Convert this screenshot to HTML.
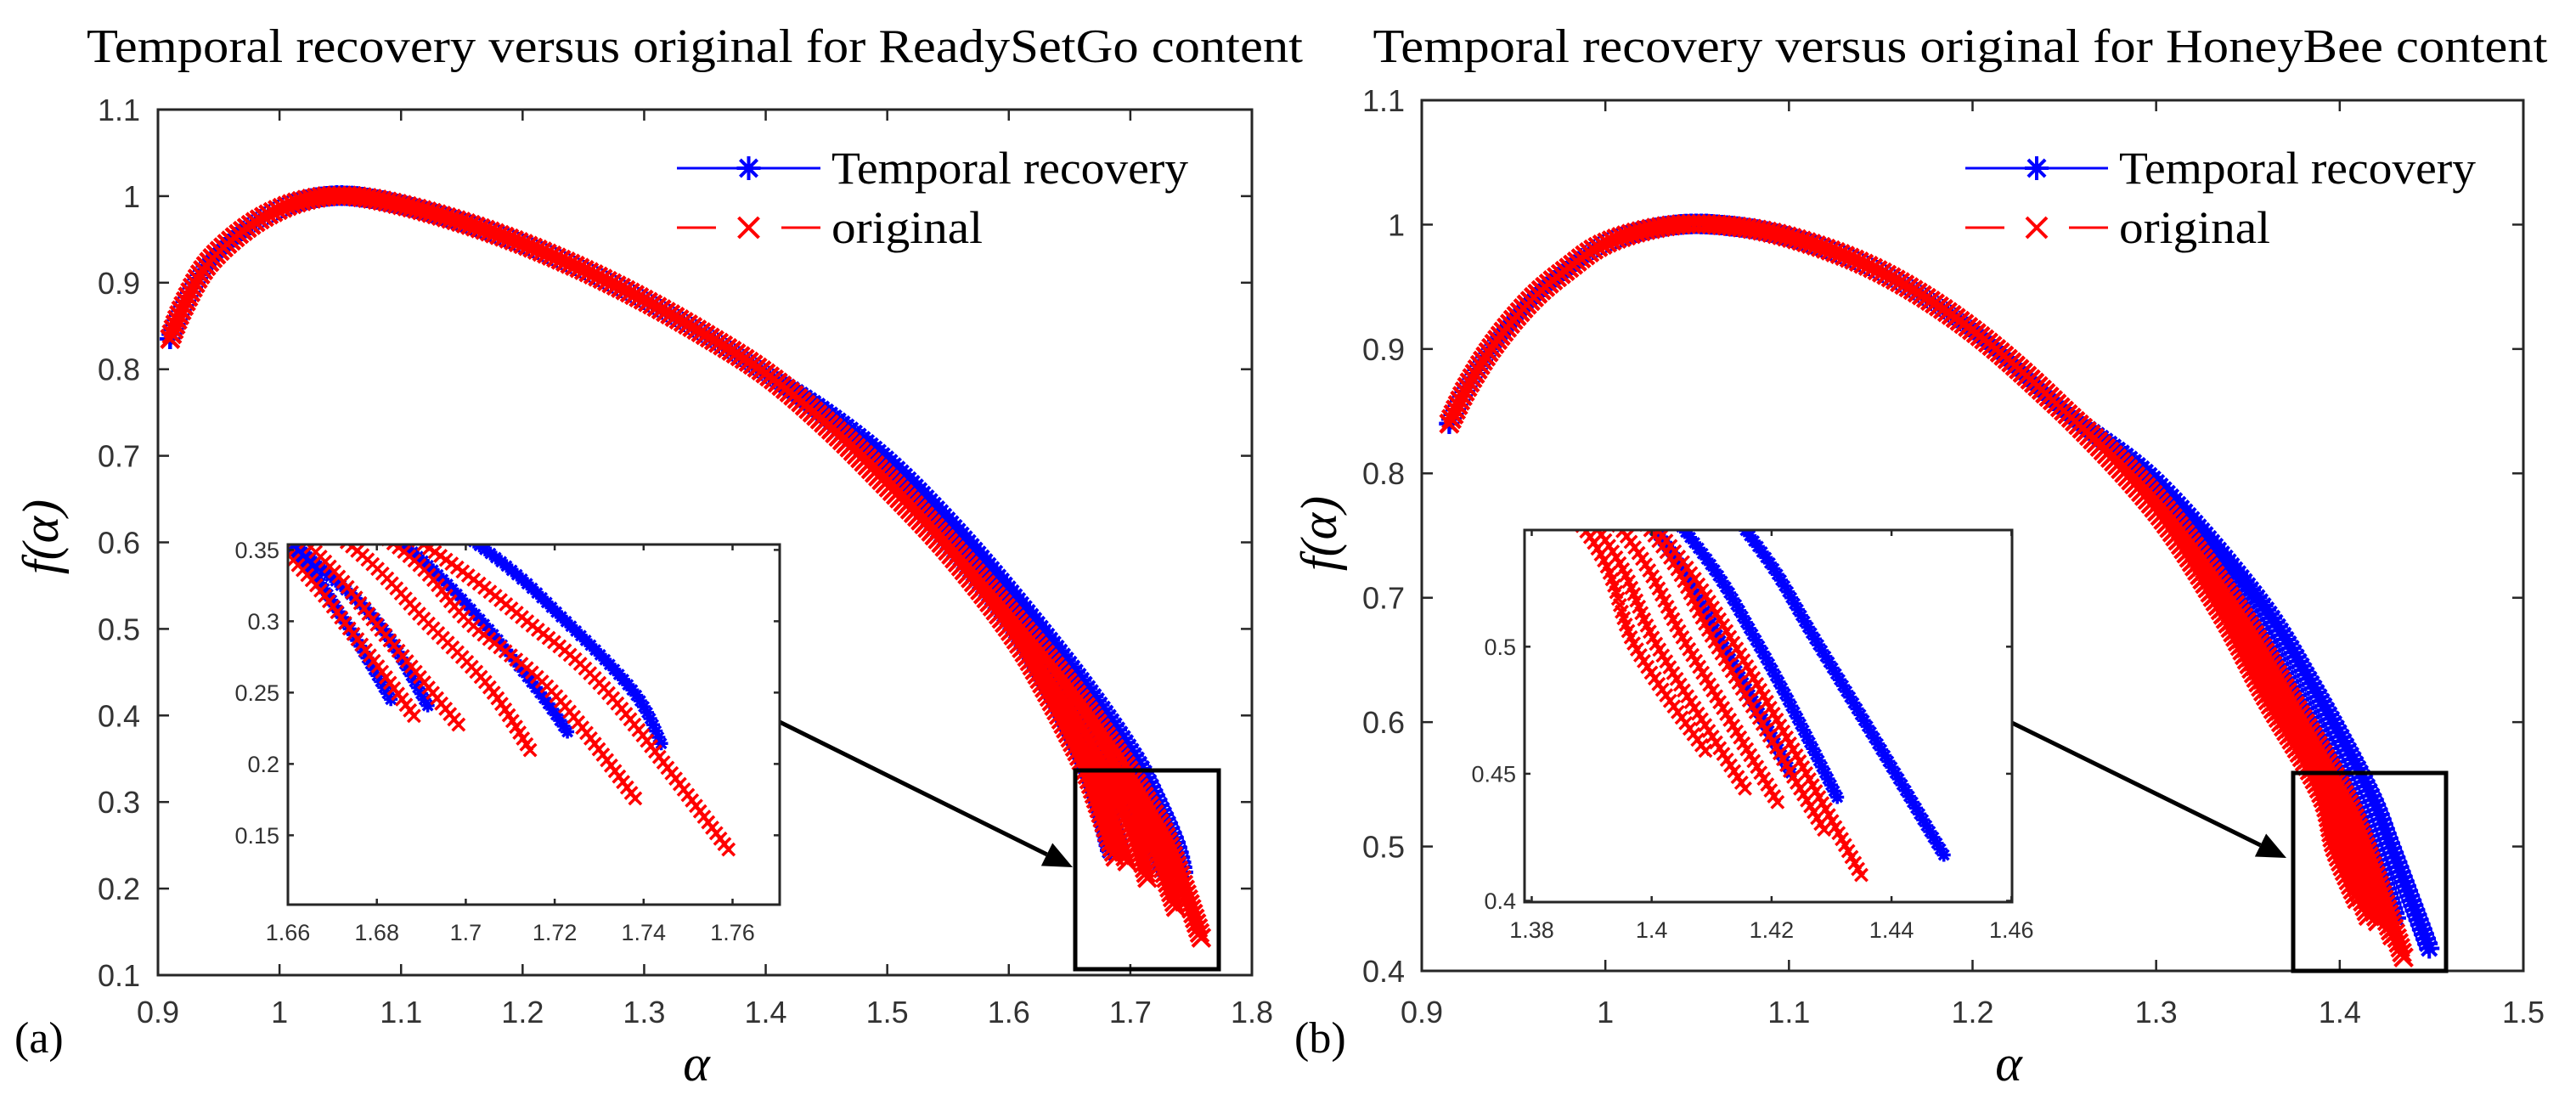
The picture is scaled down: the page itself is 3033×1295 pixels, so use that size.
<!DOCTYPE html>
<html><head><meta charset="utf-8">
<style>
html,body{margin:0;padding:0;background:#fff;}
svg{display:block;}
.tk{font-family:"Liberation Sans",sans-serif;fill:#333;}
.sf{font-family:"Liberation Serif",serif;fill:#000;}
</style></head>
<body>
<svg id="fig" width="3033" height="1295" viewBox="0 0 3033 1295" xmlns="http://www.w3.org/2000/svg">
<defs>
<clipPath id="clipLM"><rect x="186" y="129" width="1288" height="1019"/></clipPath>
<clipPath id="clipLI"><rect x="339" y="641" width="579" height="424"/></clipPath>
<clipPath id="clipRM"><rect x="1674" y="118" width="1297" height="1025"/></clipPath>
<clipPath id="clipRI"><rect x="1795" y="624" width="574" height="438"/></clipPath>
</defs>
<g id="root"></g>
</svg>
<script>
// ---------- data: panel (a) ReadySetGo ----------
const leftBody = [[0.91,0.835],[0.92,0.87],[0.94,0.92],[0.97,0.96],[1.0,0.985],[1.03,0.998],[1.06,1.0],[1.1,0.99],[1.15,0.97],[1.2,0.945],[1.25,0.915],[1.3,0.88],[1.35,0.84],[1.4,0.795]];
const leftBlue1 = [[1.45,0.742],[1.5,0.68],[1.55,0.6],[1.6,0.51],[1.63,0.44],[1.6604,0.352],[1.6728,0.30],[1.6834,0.244]];
const leftBlue2 = [[1.45,0.745],[1.5,0.685],[1.55,0.607],[1.6,0.517],[1.635,0.44],[1.6625,0.352],[1.68,0.30],[1.6918,0.239]];
const leftBlue3 = [[1.45,0.748],[1.5,0.69],[1.55,0.62],[1.6,0.535],[1.65,0.44],[1.6867,0.352],[1.7035,0.30],[1.7167,0.25],[1.7233,0.2205]];
const leftBlue4 = [[1.45,0.75],[1.5,0.695],[1.55,0.625],[1.6,0.545],[1.66,0.44],[1.7031,0.353],[1.7225,0.30],[1.7379,0.25],[1.7441,0.2135]];
const leftRed1 = [[1.45,0.735],[1.5,0.665],[1.55,0.59],[1.6,0.50],[1.63,0.43],[1.6605,0.345],[1.675,0.29],[1.6889,0.2313]];
const leftRed2 = [[1.45,0.736],[1.5,0.667],[1.55,0.592],[1.6,0.505],[1.635,0.43],[1.6651,0.352],[1.682,0.29],[1.6984,0.2274]];
const leftRed3 = [[1.45,0.737],[1.5,0.67],[1.55,0.595],[1.6,0.51],[1.64,0.43],[1.6746,0.352],[1.6911,0.30],[1.705,0.255],[1.7145,0.2095]];
const leftRed4 = [[1.45,0.738],[1.5,0.672],[1.55,0.598],[1.6,0.515],[1.645,0.435],[1.6852,0.351],[1.7006,0.30],[1.7196,0.25],[1.7386,0.1738]];
const leftRed5 = [[1.45,0.739],[1.5,0.675],[1.55,0.60],[1.6,0.52],[1.65,0.435],[1.6914,0.352],[1.7138,0.30],[1.732,0.25],[1.7591,0.14]];
const leftXTicks = ["0.9","1","1.1","1.2","1.3","1.4","1.5","1.6","1.7","1.8"];
const leftYTicks = ["0.1","0.2","0.3","0.4","0.5","0.6","0.7","0.8","0.9","1","1.1"];
const leftInsetXTicks = ["1.66","1.68","1.7","1.72","1.74","1.76"];
const leftInsetYTicks = ["0.15","0.2","0.25","0.3","0.35"];
// ---------- data: panel (b) HoneyBee ----------
const rightBody = [[0.915,0.84],[0.925,0.87],[0.94,0.905],[0.96,0.94],[0.98,0.965],[1.0,0.985],[1.03,0.998],[1.06,1.0],[1.1,0.99],[1.15,0.962],[1.2,0.915],[1.25,0.85]];
const rightBlue1 = [[1.3,0.785],[1.34,0.70],[1.37,0.625],[1.4005,0.546],[1.412,0.5],[1.4234,0.4496]];
const rightBlue2 = [[1.3,0.79],[1.345,0.70],[1.375,0.625],[1.4054,0.546],[1.418,0.5],[1.431,0.4406]];
const rightBlue3 = [[1.3,0.793],[1.355,0.70],[1.385,0.63],[1.4156,0.546],[1.428,0.5],[1.449,0.417]];
const rightRed1 = [[1.3,0.77],[1.335,0.69],[1.36,0.62],[1.3889,0.546],[1.3973,0.5],[1.4095,0.4572]];
const rightRed2 = [[1.3,0.772],[1.337,0.69],[1.363,0.62],[1.391,0.546],[1.401,0.5],[1.4158,0.4433]];
const rightRed3 = [[1.3,0.775],[1.34,0.69],[1.367,0.62],[1.395,0.546],[1.406,0.5],[1.4215,0.4367]];
const rightRed4 = [[1.3,0.778],[1.343,0.69],[1.371,0.62],[1.3997,0.546],[1.411,0.5],[1.4288,0.4278]];
const rightRed5 = [[1.3,0.78],[1.345,0.69],[1.373,0.62],[1.401,0.546],[1.414,0.5],[1.435,0.41]];
const rightXTicks = ["0.9","1","1.1","1.2","1.3","1.4","1.5"];
const rightYTicks = ["0.4","0.5","0.6","0.7","0.8","0.9","1","1.1"];
const rightInsetXTicks = ["1.38","1.4","1.42","1.44","1.46"];
const rightInsetYTicks = ["0.4","0.45","0.5"];

const NS = "http://www.w3.org/2000/svg";
const root = document.getElementById('root');
function el(tag, attrs, parent){
  const e = document.createElementNS(NS, tag);
  for (const k in attrs) e.setAttribute(k, attrs[k]);
  (parent||root).appendChild(e);
  return e;
}
function scale(d0,d1,p0,p1){ return v => p0 + (v-d0)/(d1-d0)*(p1-p0); }

function starPath(x,y,r){
  const d = r*0.72;
  return `M${x-r},${y}H${x+r}M${x},${y-r}V${y+r}M${x-d},${y-d}L${x+d},${y+d}M${x-d},${y+d}L${x+d},${y-d}`;
}
function crossPath(x,y,r){
  return `M${x-r},${y-r}L${x+r},${y+r}M${x-r},${y+r}L${x+r},${y-r}`;
}
function smoothPath(P){
  let d = `M${P[0][0].toFixed(1)},${P[0][1].toFixed(1)}`;
  for(let i=0;i<P.length-1;i++){
    const p0=P[Math.max(0,i-1)], p1=P[i], p2=P[i+1], p3=P[Math.min(P.length-1,i+2)];
    const c1x=p1[0]+(p2[0]-p0[0])/6, c1y=p1[1]+(p2[1]-p0[1])/6;
    const c2x=p2[0]-(p3[0]-p1[0])/6, c2y=p2[1]-(p3[1]-p1[1])/6;
    d += `C${c1x.toFixed(1)},${c1y.toFixed(1)} ${c2x.toFixed(1)},${c2y.toFixed(1)} ${p2[0].toFixed(1)},${p2[1].toFixed(1)}`;
  }
  return d;
}

function drawStrand(g, pts, sx, sy, color, isBlue, step, r, sw, name){
  const P = pts.map(p=>[sx(p[0]), sy(p[1])]);
  const line = el('path', {d:smoothPath(P), fill:'none', stroke:color, 'stroke-width':3}, g);
  if(!isBlue) line.setAttribute('stroke-dasharray','18,10');
  
  
  const len = line.getTotalLength();
  let md = '';
  for(let s=0; s<=len; s+=step){
    const p = line.getPointAtLength(s);
    md += isBlue ? starPath(p.x,p.y,r) : crossPath(p.x,p.y,r*0.8);
  }
  const m = el('path', {d:md, fill:'none', stroke:color, 'stroke-width':sw}, g);
  
  
}

function axesBox(x0,y0,x1,y1,sw,name){
  const r = el('rect',{x:x0,y:y0,width:x1-x0,height:y1-y0,fill:'none',stroke:'#262626','stroke-width':sw});
  
  
}

function drawTicks(labels, isX, sc, a0, a1, tlen, fontSize, labelPos, name){
  labels.forEach(t=>{
    const v = parseFloat(t), p = sc(v);
    if(isX){
      el('line',{x1:p,y1:a1,x2:p,y2:a1-tlen,stroke:'#262626','stroke-width':2.5});
      el('line',{x1:p,y1:a0,x2:p,y2:a0+tlen,stroke:'#262626','stroke-width':2.5});
      const tx = el('text',{x:p,y:labelPos,'text-anchor':'middle','font-size':fontSize,class:'tk'});
      tx.textContent = t;
      
      
    } else {
      el('line',{x1:a0,y1:p,x2:a0+tlen,y2:p,stroke:'#262626','stroke-width':2.5});
      el('line',{x1:a1,y1:p,x2:a1-tlen,y2:p,stroke:'#262626','stroke-width':2.5});
      const tx = el('text',{x:labelPos,y:p+fontSize*0.36,'text-anchor':'end','font-size':fontSize,class:'tk'});
      tx.textContent = t;
      
      
    }
  });
}

function serifText(x,y,txt,size,opts,name){
  const t = el('text',Object.assign({x:x,y:y,'font-size':size,class:'sf'},opts||{}));
  t.textContent = txt;
  
  
  return t;
}

function panel(cfg){
  const sx = scale(cfg.xr[0],cfg.xr[1],cfg.box[0],cfg.box[2]);
  const sy = scale(cfg.yr[0],cfg.yr[1],cfg.box[3],cfg.box[1]);
  const gm = el('g',{'clip-path':`url(#${cfg.clipM})`});
  
  
  cfg.blue.forEach((s,i)=>drawStrand(gm, cfg.body.concat(s), sx, sy, '#0000ff', true, 6, 12, 4, cfg.id+'-temporal-recovery-'+(i+1)));
  cfg.red.forEach((s,i)=>drawStrand(gm, cfg.body.concat(s), sx, sy, '#ff0000', false, 6, 13, 4, cfg.id+'-original-'+(i+1)));
  axesBox(cfg.box[0],cfg.box[1],cfg.box[2],cfg.box[3],3,cfg.id+'-axes-box');
  drawTicks(cfg.xt,true,sx,cfg.box[1],cfg.box[3],13,36,1204,cfg.id+'-x');
  drawTicks(cfg.yt,false,sy,cfg.box[0],cfg.box[2],13,36,cfg.ylabX,cfg.id+'-y');
  const zb = el('rect',{x:cfg.zoom[0],y:cfg.zoom[1],width:cfg.zoom[2]-cfg.zoom[0],height:cfg.zoom[3]-cfg.zoom[1],fill:'none',stroke:'#000','stroke-width':5});
  
  
  const [ax0,ay0,ax1,ay1] = cfg.arrow;
  const ang = Math.atan2(ay1-ay0, ax1-ax0), hl=34, hw=15;
  const bx = ax1-hl*Math.cos(ang), by = ay1-hl*Math.sin(ang);
  const al = el('line',{x1:ax0,y1:ay0,x2:bx,y2:by,stroke:'#000','stroke-width':5});
  
  
  const ah = el('polygon',{points:`${ax1},${ay1} ${bx-hw*Math.sin(ang)},${by+hw*Math.cos(ang)} ${bx+hw*Math.sin(ang)},${by-hw*Math.cos(ang)}`,fill:'#000'});
  
  
  const ib = cfg.ibox;
  const bg = el('rect',{x:ib[0],y:ib[1],width:ib[2]-ib[0],height:ib[3]-ib[1],fill:'#fff'});
  
  
  const ix = scale(cfg.ixr[0],cfg.ixr[1],ib[0],ib[2]);
  const iy = scale(cfg.iyr[0],cfg.iyr[1],ib[3],ib[1]);
  const gi = el('g',{'clip-path':`url(#${cfg.clipI})`});
  
  
  cfg.blue.forEach((s,i)=>drawStrand(gi, cfg.body.concat(s), ix, iy, '#0000ff', true, 8, 8, 3.5, cfg.id+'-inset-temporal-recovery-'+(i+1)));
  cfg.red.forEach((s,i)=>drawStrand(gi, cfg.body.concat(s), ix, iy, '#ff0000', false, 8, 9, 3.5, cfg.id+'-inset-original-'+(i+1)));
  axesBox(ib[0],ib[1],ib[2],ib[3],3,cfg.id+'-inset-axes-box');
  drawTicks(cfg.ixt,true,ix,ib[1],ib[3],7,27,ib[3]+42,cfg.id+'-inset-x');
  drawTicks(cfg.iyt,false,iy,ib[0],ib[2],7,27,ib[0]-10,cfg.id+'-inset-y');
  const lg = cfg.legend;
  const l1 = el('line',{x1:lg[0],y1:lg[2],x2:lg[1],y2:lg[2],stroke:'#0000ff','stroke-width':3});
  
  
  const cx = (lg[0]+lg[1])/2;
  el('path',{d:starPath(cx,lg[2],14),stroke:'#0000ff','stroke-width':4,fill:'none'});
  const l2 = el('path',{d:`M${lg[0]},${lg[3]}H${lg[0]+46}M${lg[1]-46},${lg[3]}H${lg[1]}`,stroke:'#ff0000','stroke-width':3,fill:'none'});
  
  
  el('path',{d:crossPath(cx,lg[3],12),stroke:'#ff0000','stroke-width':4,fill:'none'});
  serifText(lg[1]+13, lg[2]+18, 'Temporal recovery', 54, {textLength:420,lengthAdjust:'spacingAndGlyphs'}, cfg.id+'-legend-temporal-recovery');
  serifText(lg[1]+13, lg[3]+18, 'original', 54, {textLength:178,lengthAdjust:'spacingAndGlyphs'}, cfg.id+'-legend-original');
  serifText(cfg.title[0], 73, cfg.title[2], 56, {'text-anchor':'middle',textLength:cfg.title[1],lengthAdjust:'spacingAndGlyphs'}, cfg.id+'-title');
  serifText(cfg.xlab, 1272, 'α', 60, {'text-anchor':'middle','font-style':'italic'}, cfg.id+'-x-axis-title');
  serifText(0, 0, 'f(α)', 60, {'text-anchor':'middle','font-style':'italic',transform:`translate(${cfg.ylab[0]+20},${cfg.ylab[1]}) rotate(-90)`}, cfg.id+'-y-axis-title');
  serifText(cfg.tag[0], 1239, cfg.tag[1], 52, {}, cfg.id+'-panel-tag');
}

panel({id:'panel-a', body:leftBody,
  blue:[leftBlue1,leftBlue2,leftBlue3,leftBlue4], red:[leftRed1,leftRed2,leftRed3,leftRed4,leftRed5],
  xr:[0.9,1.8], yr:[0.1,1.1], box:[186,129,1474,1148], clipM:'clipLM', clipI:'clipLI',
  xt:leftXTicks, yt:leftYTicks, ylabX:165,
  zoom:[1266,907,1435,1141], arrow:[912,847,1263,1021],
  ibox:[339,641,918,1065], ixr:[1.66,1.7706], iyr:[0.1014,0.3538],
  ixt:leftInsetXTicks, iyt:leftInsetYTicks,
  legend:[797,966,198,268],
  title:[818,1432,'Temporal recovery versus original for ReadySetGo content'],
  xlab:820, ylab:[48,632], tag:[17,'(a)']});

panel({id:'panel-b', body:rightBody,
  blue:[rightBlue1,rightBlue2,rightBlue3], red:[rightRed1,rightRed2,rightRed3,rightRed4,rightRed5],
  xr:[0.9,1.5], yr:[0.4,1.1], box:[1674,118,2971,1143], clipM:'clipRM', clipI:'clipRI',
  xt:rightXTicks, yt:rightYTicks, ylabX:1654,
  zoom:[2700,910,2880,1143], arrow:[2367,850,2692,1010],
  ibox:[1795,624,2369,1062], ixr:[1.3788,1.4601], iyr:[0.3995,0.5459],
  ixt:rightInsetXTicks, iyt:rightInsetYTicks,
  legend:[2314,2482,198,268],
  title:[2308,1383,'Temporal recovery versus original for HoneyBee content'],
  xlab:2365, ylab:[1553,628], tag:[1524,'(b)']});
</script>
</body></html>
